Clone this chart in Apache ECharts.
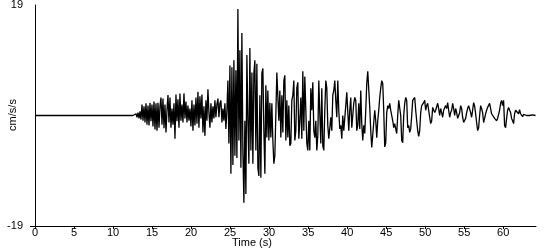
<!DOCTYPE html>
<html>
<head>
<meta charset="utf-8">
<script src="https://cdn.jsdelivr.net/npm/echarts@6/dist/echarts.min.js"></script>
<style>html,body{margin:0;padding:0;background:#fff}#c{width:550px;height:250px}</style>
</head>
<body>
<div id="c"></div>
<script>
// Time axis: record starts at t0, one value every dt seconds (quiet before t0)
const t0 = 12.56;
const dt = 0.128;
// Acceleration values (cm/s/s)
const accel = [
  0, 0.2, -0.2, 0.3, -0.3, 0.5, -0.5, 0.7, -0.7, 1.9,
  -0.9, 1.6, -1.2, 2.1, -1.6, 1.7, -1.7, 2.2, -1.0, 1.9,
  -1.9, 2.4, -2.4, 2.1, -2.6, 2.2, -2.1, 1.6, 3.1, -1.6,
  2.9, -2.2, 1.9, -2.9, 0.9, 3.5, -1.2, 3.1, -2.1, 1.2,
  -1.6, 2.1, -4.0, 3.6, -1.0, 2.8, -2.1, 3.8, -0.9, 1.9,
  -1.2, 3.8, -0.5, 2.4, -1.2, 1.7, -0.9, 1.2, -1.9, 2.6,
  -2.6, 1.9, -1.7, 3.1, -1.4, 4.1, -2.1, 3.3, -0.5, 3.6,
  -2.9, 1.6, -3.5, 2.6, -0.9, 4.5, 0.5, -2.1, 2.1, -1.2,
  1.6, -0.5, 2.6, -0.3, 1.9, 2.9, -0.3, 2.1, 2.6, -1.2,
  1.2, -0.9, 2.1, -2.3, 0.9, 6.0, -4.8, 8.6, -10.0, 8.3,
  -8.5, 9.5, -6.9, 7.8, -7.3, 18.3, -4.3, 11.2, -9.0, 14.2,
  -6.0, -15.0, -0.9, -13.5, 10.4, -0.9, -8.3, 11.6, -6.0, 7.4,
  -8.3, 7.3, 9.5, -6.0, 8.9, -9.0, -10.4, 3.5, -10.7, 7.3,
  8.1, -2.6, -10.0, 5.2, -3.8, 4.3, -4.3, 2.2, -3.8, 2.1,
  -4.3, -8.3, -6.9, 0.3, 7.4, 7.6, -0.9, 4.3, -3.8, 3.5,
  -2.9, 6.0, 6.9, -4.3, 2.6, -3.8, 1.7, -5.2, -4.8, 2.6,
  3.5, 6.0, -4.3, -2.6, 4.8, 5.7, -4.0, -0.9, 3.1, -4.0,
  7.6, -2.6, 6.7, 0.9, -4.8, -6.0, -0.9, -6.0, 4.7, 0.9,
  5.7, -2.6, -3.8, -0.9, -6.0, -3.5, 6.0, 0.3, -4.8, 4.7,
  -5.2, -6.0, 0.9, 6.0, 4.7, -1.7, -4.0, -4.3, -0.3, -2.6,
  3.5, 4.3, 6.0, 2.6, -0.3, 6.0, 0.9, -2.3, -1.7, -4.0,
  0, -2.6, -2.6, 1.7, 4.0, 3.8, -2.6, 0.9, 3.1, -2.1,
  -2.3, 2.1, 3.1, 2.6, -2.6, -1.7, 2.1, -2.3, 4.3, -1.4,
  -4.3, -1.7, -3.1, 0.9, 5.5, 7.6, 7.3, 1.4, -2.6, -5.5,
  -5.7, -1.2, 0.9, -0.9, -3.8, -0.9, 0.9, 3.1, 4.7, 6.0,
  5.5, 0.9, -5.4, -4.7, 0.5, 1.7, 1.2, 2.1, 0.9, 0,
  -0.9, -2.1, -1.4, -2.3, -3.1, 0, 2.6, 2.8, 0, -4.3,
  -4.7, 0, 2.1, 3.1, 2.6, -2.1, -1.7, -2.9, -2.3, 0,
  2.6, 2.9, 3.1, 0.9, -0.9, -2.6, -3.6, -2.6, 0.5, 1.7,
  1.4, 2.2, 2.6, 0.9, 1.7, 2.1, 0.9, -0.3, -1.4, -0.9,
  1.4, 1.2, 0.5, 0.9, 1.2, 2.1, 1.2, 0, 1.2, 0.5,
  -0.3, 0.9, 1.2, 1.7, 1.2, 2.2, 0.9, -0.3, 0.5, 0.9,
  2.1, 1.2, 0, 1.2, 0.5, -0.5, 0, 0.5, 1.7, 1.2,
  -0.3, -1.2, -0.9, -0.5, 0.5, 1.2, 1.7, 1.4, 0.5, -0.3,
  0.9, 2.2, 1.6, 0.3, -1.2, -2.6, -2.1, 0, 1.7, 1.2,
  0.5, -1.2, -0.5, 0.3, 0.9, 1.4, 1.7, 2.1, 1.2, 0.3,
  0.5, 0, -0.5, -0.3, -0.9, -0.5, -0.3, 0.9, 2.1, 2.6,
  1.7, 2.6, -1.7, -2.1, -0.5, 0.9, 1.4, 0.9, 0.5, -0.5,
  -0.9, -1.4, 0.3, 0.9, 1.2, 0.9, 0.3, 1.0, 0.3, 0,
  -0.2, 0.2, 0, 0.1, 0, 0.1, 0.1, 0, 0.1, 0,
  0.1, 0, 0, 0
];
const xTicks = [0, 5, 10, 15, 20, 25, 30, 35, 40, 45, 50, 55, 60];
const yTicks = [-19, 19];
const xName = 'Time (s)';
const yName = 'cm/s/s';

const data = [[0, 0]].concat(accel.map((v, i) => [t0 + i * dt, v]));
const font = 'Liberation Sans';
const chart = echarts.init(document.getElementById('c'), null, {renderer: 'canvas'});
chart.setOption({
  animation: false,
  backgroundColor: '#fff',
  grid: {left: 35, right: 14, top: 5, bottom: 24, containLabel: false, outerBoundsMode: 'none'},
  xAxis: {
    type: 'value', min: 0, max: 64.2, interval: 5,
    axisLine: {onZero: false, lineStyle: {color: '#000', width: 1}},
    axisTick: {length: 3, lineStyle: {color: '#000'}},
    axisLabel: {color: '#000', fontSize: 11, fontFamily: font, margin: 1, showMaxLabel: false,
      formatter: v => xTicks.includes(v) ? String(v) : ''},
    splitLine: {show: false}
  },
  yAxis: {
    type: 'value', min: yTicks[0], max: yTicks[1], interval: 38,
    axisLine: {show: true, onZero: false, lineStyle: {color: '#000', width: 1}},
    axisTick: {show: true, length: 5, customValues: [-19], lineStyle: {color: '#000'}},
    axisLabel: {color: '#000', fontSize: 11, fontFamily: font, margin: 12},
    splitLine: {show: false}
  },
  graphic: [{
    type: 'text', left: 232, top: 237,
    style: {text: xName, fill: '#000', font: '11px "Liberation Sans"'}
  }, {
    type: 'text', x: 13, y: 115, rotation: Math.PI / 2,
    style: {text: yName, fill: '#000', font: '11px "Liberation Sans"', align: 'center', verticalAlign: 'middle'}
  }],
  series: [{
    type: 'line', data: data, showSymbol: false, sampling: null,
    lineStyle: {color: '#000', width: 1.3}
  }]
});
</script>
</body>
</html>
